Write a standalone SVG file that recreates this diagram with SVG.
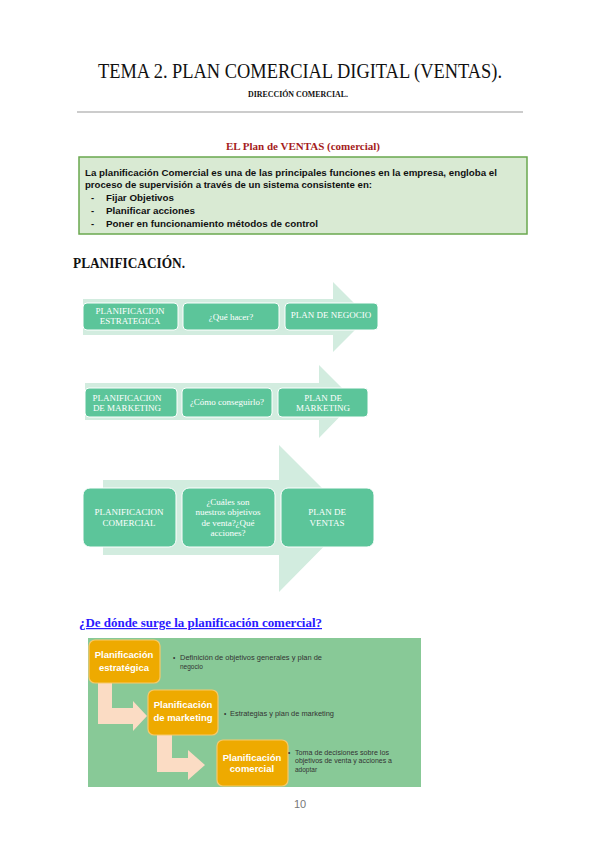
<svg xmlns="http://www.w3.org/2000/svg" width="600" height="848" viewBox="0 0 600 848">
<defs>
<style>
.serif{font-family:"Liberation Serif","DejaVu Serif",serif}
.sans{font-family:"Liberation Sans","Noto Sans",sans-serif}
.arrowbg{fill:#d2ecdf}
.gbox{fill:#5cc59a;stroke:#ffffff;stroke-width:1}
.gt{font-family:"Liberation Serif","DejaVu Serif",serif;fill:#ffffff;font-size:9px;text-anchor:middle}
.obox{fill:#eeaa00;stroke:#f7c96a;stroke-width:1.2}
.ot{font-family:"Liberation Sans","Noto Sans",sans-serif;fill:#ffffff;font-size:9.5px;font-weight:bold;text-anchor:middle}
.peach{fill:#fbdcc4}
.bt{font-family:"Liberation Sans","Noto Sans",sans-serif;fill:#333333;font-size:6.5px}
.body{font-family:"Liberation Sans","Noto Sans",sans-serif;font-size:9.5px;font-weight:bold;fill:#111111}
</style>
</defs>
<rect width="600" height="848" fill="#ffffff"/>

<g id="header">
<text class="serif" x="300" y="78" font-size="20" text-anchor="middle" textLength="404" lengthAdjust="spacingAndGlyphs" fill="#111">TEMA 2. PLAN COMERCIAL DIGITAL (VENTAS).</text>
<text class="serif" x="298" y="97" font-size="8" font-weight="bold" text-anchor="middle" fill="#111" textLength="100" lengthAdjust="spacingAndGlyphs">DIRECCIÓN COMERCIAL.</text>
<line x1="77" y1="112" x2="523" y2="112" stroke="#999" stroke-width="1"/>
</g>

<g id="intro">
<text class="serif" x="303" y="150" font-size="11" font-weight="bold" text-anchor="middle" fill="#a51c1c">EL Plan de VENTAS (comercial)</text>
<rect x="79" y="157" width="448" height="77" fill="#d9ead3" stroke="#6aa84f" stroke-width="1.5"/>
<text class="body" x="85" y="176" textLength="412" lengthAdjust="spacingAndGlyphs">La planificación Comercial es una de las principales funciones en la empresa, engloba el</text>
<text class="body" x="85" y="188" textLength="287" lengthAdjust="spacingAndGlyphs">proceso de supervisión a través de un sistema consistente en:</text>
<text class="body" x="91" y="201">-</text>
<text class="body" x="106" y="201" textLength="68" lengthAdjust="spacingAndGlyphs">Fijar Objetivos</text>
<text class="body" x="91" y="214">-</text>
<text class="body" x="106" y="214" textLength="89" lengthAdjust="spacingAndGlyphs">Planificar acciones</text>
<text class="body" x="91" y="227">-</text>
<text class="body" x="106" y="227" textLength="212" lengthAdjust="spacingAndGlyphs">Poner en funcionamiento métodos de control</text>
</g>

<text class="serif" x="73" y="268" font-size="14" font-weight="bold" fill="#111" textLength="112" lengthAdjust="spacingAndGlyphs">PLANIFICACIÓN.</text>

<rect x="88" y="638" width="333" height="149" fill="#88c997"/>

<g id="connectors">
<polygon class="arrowbg" points="83,299 333,299 333,282 368,317 333,352 333,335 83,335"/>
<polygon class="arrowbg" points="85,383 319,383 319,365 355,401 319,438 319,420 85,420"/>
<polygon class="arrowbg" points="103,480 279,480 279,445 352,518 279,592 279,555 103,555"/>
<path class="peach" d="M98,683 H112 V708 H133 V701 L147,716 L133,731 V724 H98 Z"/>
<path class="peach" d="M157,735 H172 V758 H188 V750 L205,765 L188,780 V772 H157 Z"/>
</g>

<g id="row1">
<g id="n-plan-estrategica"><rect class="gbox" x="83" y="303" width="95" height="27" rx="4"/>
<text class="gt" x="130" y="314">PLANIFICACION</text><text class="gt" x="130" y="324">ESTRATEGICA</text></g>
<g id="n-que-hacer"><rect class="gbox" x="183" y="303" width="96" height="27" rx="4"/>
<text class="gt" x="231" y="320">¿Qué hacer?</text></g>
<g id="n-plan-negocio"><rect class="gbox" x="285" y="303" width="93" height="27" rx="4"/>
<text class="gt" x="331" y="318">PLAN DE NEGOCIO</text></g>
</g>

<g id="row2">
<g id="n-plan-marketing"><rect class="gbox" x="85" y="388" width="92" height="29" rx="4"/>
<text class="gt" x="127" y="401">PLANIFICACION</text><text class="gt" x="127" y="411">DE MARKETING</text></g>
<g id="n-como"><rect class="gbox" x="182" y="388" width="90" height="29" rx="4"/>
<text class="gt" x="227" y="405">¿Cómo conseguirlo?</text></g>
<g id="n-plan-de-marketing"><rect class="gbox" x="278" y="388" width="90" height="29" rx="4"/>
<text class="gt" x="323" y="401">PLAN DE</text><text class="gt" x="323" y="411">MARKETING</text></g>
</g>

<g id="row3">
<g id="n-plan-comercial"><rect class="gbox" x="83" y="488" width="93" height="59" rx="7"/>
<text class="gt" x="129" y="515" font-size="9.5">PLANIFICACION</text><text class="gt" x="129" y="526" font-size="9.5">COMERCIAL</text></g>
<g id="n-cuales"><rect class="gbox" x="182" y="488" width="93" height="59" rx="7"/>
<text class="gt" x="228" y="505">¿Cuáles son</text><text class="gt" x="228" y="515">nuestros objetivos</text><text class="gt" x="228" y="526">de venta?¿Qué</text><text class="gt" x="228" y="536">acciones?</text></g>
<g id="n-plan-ventas"><rect class="gbox" x="281" y="488" width="93" height="59" rx="7"/>
<text class="gt" x="327" y="515" font-size="9.5">PLAN DE</text><text class="gt" x="327" y="526" font-size="9.5">VENTAS</text></g>
</g>

<text class="serif" x="79" y="627" font-size="12" font-weight="bold" fill="#2a1aff" text-decoration="underline" textLength="243" lengthAdjust="spacingAndGlyphs">¿De dónde surge la planificación comercial?</text>

<g id="b-estrategica"><rect class="obox" x="89" y="640" width="71" height="43" rx="6"/>
<text class="ot" x="124" y="658">Planificación</text><text class="ot" x="124" y="671">estratégica</text></g>
<g id="b-marketing"><rect class="obox" x="148" y="690" width="70" height="45" rx="6"/>
<text class="ot" x="183" y="708">Planificación</text><text class="ot" x="183" y="721">de marketing</text></g>
<g id="b-comercial"><rect class="obox" x="217" y="740" width="71" height="46" rx="6"/>
<text class="ot" x="252" y="761">Planificación</text><text class="ot" x="252" y="772">comercial</text></g>

<g id="bullets">
<text class="bt" x="173" y="660">•</text>
<text class="bt" x="180" y="660" textLength="142" lengthAdjust="spacingAndGlyphs">Definición de objetivos generales y plan de</text>
<text class="bt" x="180" y="669">negocio</text>
<text class="bt" x="224" y="716">•</text>
<text class="bt" x="230" y="716" textLength="104" lengthAdjust="spacingAndGlyphs">Estrategias y plan de marketing</text>
<text class="bt" x="288" y="755">•</text>
<text class="bt" x="295" y="755" textLength="94" lengthAdjust="spacingAndGlyphs">Toma de decisiones sobre los</text>
<text class="bt" x="295" y="763" textLength="97" lengthAdjust="spacingAndGlyphs">objetivos de venta y acciones a</text>
<text class="bt" x="295" y="772">adoptar</text>
</g>

<text class="sans" x="300" y="808" font-size="11" fill="#777" text-anchor="middle">10</text>
</svg>
